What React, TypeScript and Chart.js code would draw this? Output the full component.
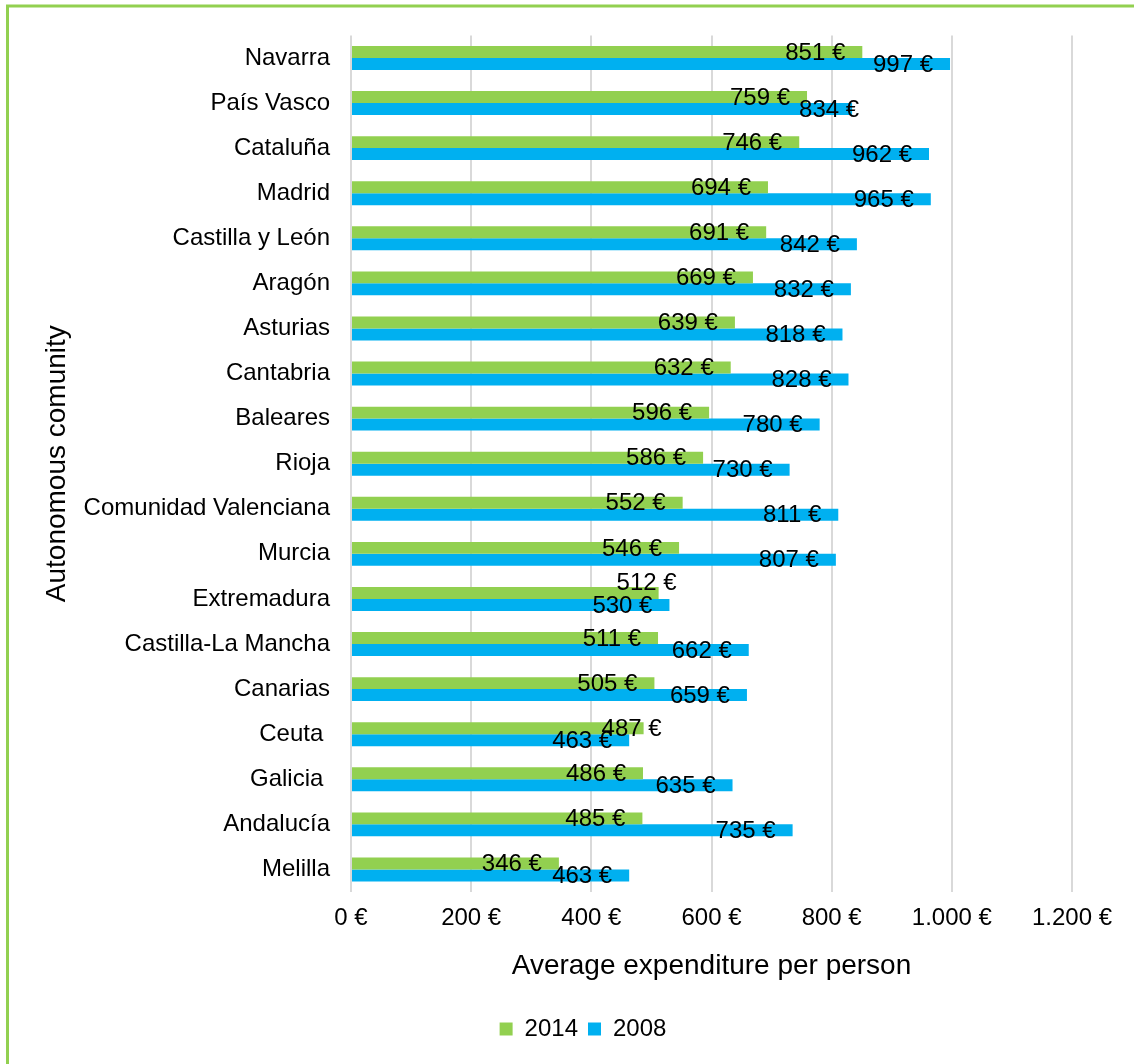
import React, { useEffect, useRef } from "react";
import { Chart, registerables } from "chart.js";

Chart.register(...registerables);

const categories = [
  "Navarra",
  "País Vasco",
  "Cataluña",
  "Madrid",
  "Castilla y León",
  "Aragón",
  "Asturias",
  "Cantabria",
  "Baleares",
  "Rioja",
  "Comunidad Valenciana",
  "Murcia",
  "Extremadura",
  "Castilla-La Mancha",
  "Canarias",
  "Ceuta ",
  "Galicia ",
  "Andalucía",
  "Melilla",
];

const values2014 = [851, 759, 746, 694, 691, 669, 639, 632, 596, 586, 552, 546, 512, 511, 505, 487, 486, 485, 346];
const values2008 = [997, 834, 962, 965, 842, 832, 818, 828, 780, 730, 811, 807, 530, 662, 659, 463, 635, 735, 463];

const seriesLabels = ["2014", "2008"];
const xTicks = [0, 200, 400, 600, 800, 1000, 1200];

const FONT = '"Liberation Sans", Arial, Helvetica, sans-serif';
const GREEN = "#92D050";
const BLUE = "#00B0F0";
const SMALL = 24;
const BIG = 28;

const fmt = (v: number) => String(v).replace(/\B(?=(\d{3})+(?!\d))/g, ".") + " €";

const borderPlugin = {
  id: "outerBorder",
  afterDraw(chart: any) {
    const ctx = chart.ctx;
    ctx.save();
    ctx.strokeStyle = GREEN;
    ctx.lineWidth = 3;
    ctx.strokeRect(7.5, 6, 1400, 1400);
    ctx.restore();
  },
};

const legendShiftPlugin = {
  id: "legendShift",
  afterLayout(chart: any) {
    const lg = chart.legend;
    if (!lg) return;
    const dx = 42;
    lg.left += dx;
    lg.right += dx;
  },
};

const valueLabelPlugin = {
  id: "valueLabels",
  afterDatasetsDraw(chart: any) {
    const ctx = chart.ctx;
    const m0 = chart.getDatasetMeta(0);
    const m1 = chart.getDatasetMeta(1);
    ctx.save();
    ctx.font = `${SMALL}px ${FONT}`;
    ctx.fillStyle = "#000";
    ctx.textAlign = "right";
    ctx.textBaseline = "middle";
    m0.data.forEach((g: any, i: number) => {
      const b = m1.data[i];
      const gv = values2014[i];
      const bv = values2008[i];
      const gt = fmt(gv);
      const bt = fmt(bv);
      const bw = ctx.measureText(bt).width;
      const gw = ctx.measureText(gt).width;
      let gx = g.x - 17;
      let gy = g.y + 1;
      let bx = b.x - 17;
      const by = b.y + 1;
      const overlap = gx > bx - bw && gx - gw < bx;
      if (overlap) {
        if (bv < gv) {
          gx = g.x + 18;
        } else if (bv - gv > 50) {
          bx = b.x + 7;
        } else {
          gx = g.x + 18;
          gy -= 11;
        }
      }
      ctx.fillText(gt, gx, gy);
      ctx.fillText(bt, bx, by);
    });
    ctx.restore();
  },
};

export default function App() {
  const ref = useRef<HTMLCanvasElement | null>(null);

  useEffect(() => {
    if (!ref.current) return;
    document.body.style.margin = "0";
    Chart.defaults.font.family = FONT;
    Chart.defaults.color = "#000";
    const chart = new Chart(ref.current, {
      type: "bar",
      data: {
        labels: categories,
        datasets: [
          {
            label: seriesLabels[0],
            data: values2014,
            backgroundColor: GREEN,
            borderWidth: 0,
            categoryPercentage: 0.53,
            barPercentage: 1,
          },
          {
            label: seriesLabels[1],
            data: values2008,
            backgroundColor: BLUE,
            borderWidth: 0,
            categoryPercentage: 0.53,
            barPercentage: 1,
          },
        ],
      },
      options: {
        indexAxis: "y",
        responsive: false,
        animation: false,
        layout: { padding: { left: 10, right: 62, top: 34, bottom: 13 } },
        scales: {
          x: {
            min: 0,
            max: 1200,
            afterBuildTicks: (scale: any) => {
              scale.ticks = xTicks.map((v) => ({ value: v }));
            },
            afterFit: (scale: any) => {
              scale.height = 115;
            },
            grid: { color: "#d9d9d9", lineWidth: 2, drawTicks: false },
            border: { display: false },
            ticks: {
              padding: 12,
              font: { size: SMALL, family: FONT },
              color: "#000",
              callback: (v: any) => fmt(Number(v)),
            },
            title: {
              display: true,
              text: "Average expenditure per person",
              font: { size: BIG, family: FONT },
              color: "#000",
              padding: { top: 0, bottom: 24 },
            },
          },
          y: {
            afterFit: (scale: any) => {
              scale.width = 341;
            },
            grid: { display: false, drawTicks: false },
            border: { display: false },
            ticks: {
              padding: 21,
              font: { size: SMALL, family: FONT },
              color: "#000",
              autoSkip: false,
            },
            title: {
              display: true,
              text: "Autonomous comunity",
              font: { size: BIG, family: FONT },
              color: "#000",
              padding: { top: 30, bottom: 0 },
            },
          },
        },
        plugins: {
          legend: {
            position: "bottom",
            labels: {
              boxWidth: 13,
              boxHeight: 13,
              padding: 10,
              font: { size: SMALL, family: FONT },
              color: "#000",
            },
          },
          tooltip: { enabled: false },
        },
      },
      plugins: [valueLabelPlugin, legendShiftPlugin, borderPlugin],
    } as any);
    return () => chart.destroy();
  }, []);

  return (
    <div style={{ position: "absolute", left: 0, top: 0, width: 1134, height: 1064, background: "#fff" }}>
      <canvas ref={ref} width={1134} height={1064} style={{ display: "block" }} />
    </div>
  );
}
